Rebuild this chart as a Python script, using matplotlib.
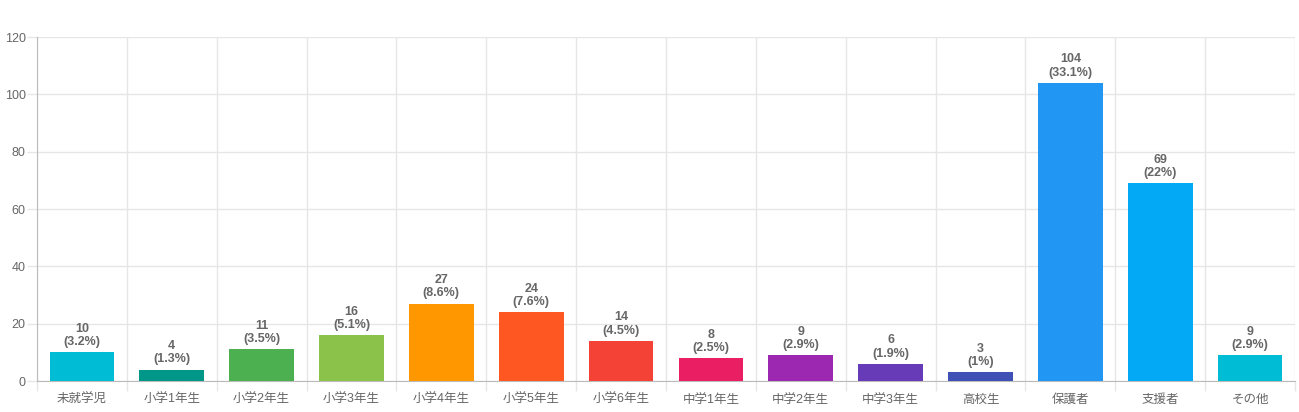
import matplotlib.pyplot as plt
from matplotlib.ticker import MultipleLocator, FixedLocator

plt.rcParams['font.family'] = ['Liberation Sans', 'Noto Sans CJK JP', 'DejaVu Sans']

# # Data
categories = ['未就学児', '小学1年生', '小学2年生', '小学3年生', '小学4年生', '小学5年生', '小学6年生',
              '中学1年生', '中学2年生', '中学3年生', '高校生', '保護者', '支援者', 'その他']
counts = [10, 4, 11, 16, 27, 24, 14, 8, 9, 6, 3, 104, 69, 9]
colors = ['#00BCD4', '#009688', '#4CAF50', '#8BC34A', '#FF9800', '#FF5722', '#F44336',
          '#E91E63', '#9C27B0', '#673AB7', '#3F51B5', '#2196F3', '#03A9F4', '#00BCD4']

total = sum(counts)
grid_c = '#e6e6e6'
text_c = '#666666'

fig = plt.figure(figsize=(12.99, 4.12), dpi=100)
ax = fig.add_axes([37/1299, 31/412, 1258/1299, 344/412])

x = list(range(len(categories)))
ax.bar(x, counts, width=0.72, color=colors, zorder=3)

for i, v in enumerate(counts):
    pct = round(v / total * 100, 1)
    pct_s = f"{pct:g}"
    ax.annotate(f"{v}\n({pct_s}%)", (i, v), xytext=(0, 3), textcoords='offset points',
                ha='center', va='bottom', fontsize=9, fontweight='bold', color=text_c,
                linespacing=1.15, zorder=4)

ax.set_xlim(-0.5, len(categories) - 0.5)
ax.set_ylim(0, 120)
ax.yaxis.set_major_locator(MultipleLocator(20))
ax.set_xticks(x)
ax.set_xticklabels(categories)
ax.xaxis.set_minor_locator(FixedLocator([i - 0.5 for i in range(len(categories) + 1)]))

ax.tick_params(axis='x', which='major', length=0, pad=9, labelsize=9, labelcolor=text_c)
ax.tick_params(axis='x', which='minor', length=7.2, color=grid_c, width=1)
ax.tick_params(axis='y', length=7.2, color=grid_c, width=1, labelsize=9, labelcolor=text_c, pad=1)

ax.grid(True, axis='y', color=grid_c, linewidth=1, zorder=0)
ax.grid(True, axis='x', which='minor', color=grid_c, linewidth=1, zorder=0)

for side in ['top', 'right']:
    ax.spines[side].set_visible(False)
ax.spines['left'].set_color('#bbbbbb')
ax.spines['bottom'].set_color('#bbbbbb')

fig.savefig('out.png', dpi=100)
